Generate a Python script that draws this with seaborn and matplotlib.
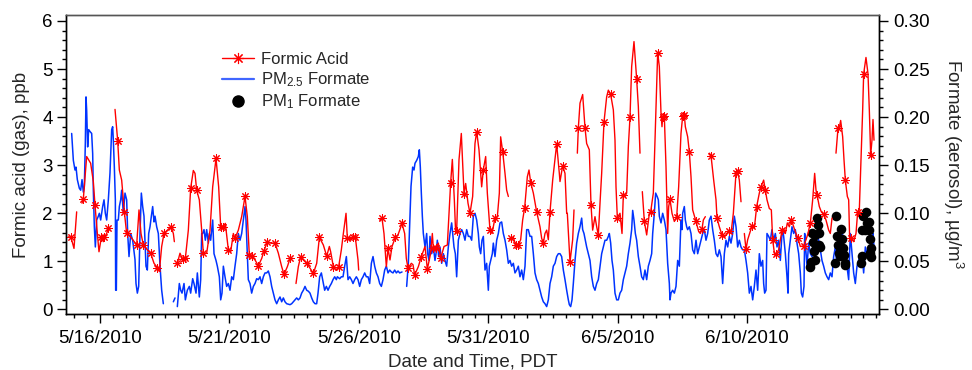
import numpy as np
import pandas as pd
import matplotlib
matplotlib.use("Agg")
import matplotlib.pyplot as plt
import matplotlib.dates as mdates
from matplotlib.lines import Line2D
from matplotlib.ticker import MultipleLocator, FixedLocator, FuncFormatter
import seaborn as sns

nan = float("nan")
START = "2010-05-14 00:00"   # elapsed days below are counted from this time (PDT)

# ---------------- Formic acid (gas), ppb ----------------
formic_day = [
    0.776, 0.879, 0.995, 1.098, nan,
    1.304, 1.356, 1.485, 1.639, 1.742, 1.807, 1.897, 1.961, 2.051, 2.129, 2.167, 2.258, 2.322, 2.386, nan,
    2.580, 2.683, 2.747, 2.837, 2.902, 2.940, 3.030, 3.185, 3.417, 3.507, 3.584, 3.674, 3.829, 3.958, 4.087,
    4.215, 4.293, 4.383, 4.473, 4.602, 4.744, 4.834, 4.873, nan,
    4.988, 5.091, 5.194, 5.297, 5.413, 5.503, 5.606, 5.671, 5.735, 5.838, 5.929, 5.993, 6.122, 6.251, 6.354,
    6.483, 6.585, 6.663, 6.740, 6.843, 6.959, 7.049, 7.152, 7.217, 7.345, 7.474, 7.603, 7.693, 7.770, 7.860,
    7.989, 8.118, 8.247, 8.337, 8.466, 8.595, 8.762, 8.891, 9.020, 9.110, 9.239, 9.341, nan,
    9.573, 9.663, 9.753, 9.856, 9.985, 10.114, 10.243, 10.373, 10.476, 10.630, 10.759, 10.862, 10.913,
    11.016, 11.119, 11.222, 11.325, 11.403, 11.506, 11.557, 11.660, 11.776, 11.866, 11.969, 11.995, nan,
    12.806, 12.896, 12.973, 13.064, 13.128, 13.205, 13.283, 13.411, 13.514, 13.579, 13.669, 13.772, 13.836,
    13.901, 14.030, 14.094, 14.158, 14.300, 14.416, 14.558, 14.648, 14.777, 14.841, 14.880, 14.970, 15.073,
    15.163, 15.292, 15.421, 15.549, 15.614, 15.691, 15.743, 15.781, 15.871, 15.961, 16.065, 16.129, 16.219,
    16.296, 16.399, 16.489, 16.554, 16.644, 16.747, 16.812, 16.902, 16.966, 17.069, 17.147, 17.262, 17.353,
    17.430, 17.481, 17.559, 17.649, 17.713, 17.778, nan,
    17.816, 17.868, 17.971, 18.061, 18.164, 18.254, 18.331, 18.409, 18.512, 18.576, 18.641, 18.744, 18.872,
    19.001, 19.066, 19.130, 19.194, 19.259, 19.323, 19.388, 19.491, 19.645, 19.748, 19.774, 19.877, 19.967,
    20.032, 20.057, 20.160, 20.263, 20.315, nan,
    20.444, 20.482, 20.547, 20.650, 20.740, 20.804, 20.907, 20.972, 21.036, 21.126, 21.191, 21.255, 21.320,
    21.384, 21.474, 21.577, 21.641, 21.732, 21.835, 21.899, 21.938, 21.989, 22.092, 22.170, 22.221, 22.286,
    22.350, 22.415, 22.479, 22.543, 22.633, 22.736, 22.801, 22.865, nan,
    22.955, 23.033, 23.123, 23.226, 23.278, 23.380, 23.445, 23.548, 23.612, 23.677, 23.715, 23.741, 23.805,
    23.870, 23.934, 23.973, 24.024, 24.102, 24.192, 24.282, 24.359, 24.449, 24.514, 24.578, 24.617, 24.707,
    24.771, 24.836, 24.900, 25.029, 25.132, 25.197, 25.261, 25.312, 25.390, nan,
    25.544, 25.609, 25.712, 25.802, 25.840, 25.930, 26.034, 26.124, 26.291, 26.381, 26.472, 26.575, 26.639,
    26.703, 26.768, nan,
    26.897, 26.961, 27.025, 27.193, 27.283, 27.373, 27.476, 27.540, 27.643, 27.708, 27.772, 27.862, 27.940,
    27.991, 28.068, 28.120, 28.223, 28.352, 28.416, 28.481, 28.558, 28.635, 28.712, 28.803, 28.893, 28.970,
    29.060, 29.189, 29.279, 29.356, 29.447, 29.537, 29.614, 29.666, 29.704, 29.794, 29.872, 29.962, 30.052,
    30.155, 30.219, 30.284, nan,
    30.438, 30.516, 30.580, 30.619, 30.696, 30.748, 30.799, 30.877, 30.928, 30.967, 31.031, 31.121, 31.211,
    31.276, 31.340, 31.404, 31.469, 31.507, 31.597, 31.675, 31.726, 31.778, 31.829, 31.868, 31.907,
]
formic_ppb = [
    1.51, 1.50, 1.27, 2.03, nan,
    2.21, 2.30, 3.18, 3.04, 2.66, 2.17, 1.58, 1.20, 1.50, 1.41, 1.50, 1.58, 1.69, 1.65, nan,
    4.16, 3.51, 2.90, 2.69, 2.28, 2.03, 1.58, 1.51, 1.34, 2.07, 1.58, 1.34, 1.24, 1.17, 0.96,
    0.87, 0.79, 1.31, 1.58, 1.65, 1.72, 1.58, 1.41, nan,
    0.96, 1.17, 1.04, 1.06, 1.65, 2.52, 2.89, 2.83, 2.48, 2.28, 1.65, 1.17, 1.17, 1.65, 2.55,
    3.14, 2.55, 1.72, 1.72, 1.79, 1.24, 1.20, 1.58, 1.48, 1.65, 1.93, 2.35, 1.93, 1.13, 1.11,
    1.03, 0.91, 1.06, 1.22, 1.41, 1.38, 1.38, 1.17, 0.89, 0.73, 0.89, 1.06, nan,
    0.54, 0.89, 1.10, 1.03, 0.96, 0.86, 0.75, 0.96, 1.50, 1.34, 1.11, 1.31, 1.20,
    0.89, 0.82, 0.89, 1.24, 1.58, 2.00, 1.48, 1.45, 1.51, 1.50, 1.03, 0.82, nan,
    1.86, 1.90, 1.58, 0.89, 1.27, 1.03, 1.31, 1.50, 1.55, 1.65, 1.79, 1.58, 1.06,
    0.86, 0.96, 0.93, 0.72, 0.89, 1.10, 1.31, 0.84, 1.17, 1.58, 1.27, 1.27, 1.38,
    1.06, 1.31, 1.34, 2.64, 3.12, 2.28, 1.58, 1.64, 3.11, 3.66, 2.41, 2.62, 2.21,
    2.00, 2.35, 3.45, 3.70, 3.32, 2.55, 2.91, 3.18, 2.42, 1.65, 1.58, 1.90, 1.93,
    2.42, 3.59, 3.28, 2.83, 2.48, 2.35, nan,
    1.45, 1.48, 1.50, 1.34, 1.35, 1.45, 1.86, 2.12, 2.76, 2.90, 2.64, 2.42, 2.03,
    1.72, 1.48, 1.38, 1.58, 1.65, 1.45, 2.03, 2.69, 3.44, 2.83, 2.66, 2.99, 2.83,
    2.00, 2.00, 0.99, 1.45, 2.07, nan,
    3.25, 3.77, 4.29, 4.47, 3.78, 3.45, 3.32, 2.17, 1.65, 1.93, 1.72, 1.55, 2.21,
    2.83, 3.90, 4.42, 4.56, 4.47, 4.15, 3.52, 2.55, 1.91, 2.00, 1.58, 2.38, 2.35,
    2.42, 3.39, 4.00, 5.05, 5.57, 4.79, 4.22, 3.25, nan,
    2.45, 1.83, 1.55, 2.00, 2.03, 2.42, 3.52, 5.34, 5.05, 4.08, 3.80, 4.01, 4.02,
    2.97, 1.58, 2.14, 2.29, 2.00, 1.83, 1.92, 2.55, 3.66, 4.02, 4.04, 3.80, 3.59,
    3.28, 2.76, 2.07, 1.83, 1.62, 1.58, 1.67, 1.86, 1.93, nan,
    3.25, 3.20, 2.69, 2.28, 1.90, 1.72, 1.55, 1.50, 1.64, 1.58, 2.00, 2.84, 2.87,
    2.69, 2.24, nan,
    1.58, 1.25, 1.45, 1.74, 1.69, 2.14, 2.42, 2.55, 2.69, 2.48, 2.28, 2.10, 2.07,
    1.45, 1.13, 1.15, 1.24, 1.65, 1.67, 1.58, 1.80, 1.72, 1.87, 1.72, 1.58, 1.48,
    1.31, 1.32, 1.45, 1.58, 1.80, 2.28, 2.83, 2.48, 2.39, 2.14, 2.03, 1.98, 1.86,
    1.65, 1.58, 1.90, nan,
    3.25, 3.77, 3.82, 3.93, 3.59, 3.11, 2.69, 2.35, 2.28, 1.45, 1.48, 1.41, 1.58,
    2.03, 2.07, 3.11, 4.15, 4.90, 5.24, 4.90, 4.15, 3.21, 3.52, 3.95, 3.52,
]
# 1 = sample flagged with a star marker
formic_star = [
    0, 1, 0, 0, 0,
    0, 1, 0, 0, 0, 1, 0, 0, 1, 0, 1, 0, 1, 0, 0,
    0, 1, 0, 0, 0, 1, 1, 0, 1, 0, 0, 1, 0, 1, 0,
    1, 0, 0, 1, 0, 1, 0, 0, 0,
    1, 0, 1, 1, 0, 1, 0, 0, 1, 0, 0, 1, 0, 0, 0,
    1, 0, 1, 1, 0, 1, 0, 0, 1, 0, 0, 1, 0, 1, 1,
    0, 1, 0, 1, 1, 0, 1, 0, 0, 1, 0, 1, 0,
    0, 0, 1, 0, 1, 0, 1, 0, 1, 0, 1, 0, 0,
    1, 0, 1, 0, 0, 0, 1, 0, 1, 1, 0, 0, 0,
    0, 1, 0, 0, 1, 0, 0, 1, 0, 0, 1, 0, 0,
    1, 0, 0, 1, 0, 1, 0, 1, 0, 0, 1, 1, 0,
    1, 0, 0, 1, 0, 0, 0, 1, 0, 0, 1, 0, 0,
    1, 0, 0, 1, 0, 0, 1, 0, 0, 1, 0, 1, 0,
    0, 0, 1, 0, 0, 0, 0,
    0, 1, 0, 1, 1, 0, 0, 1, 0, 0, 1, 0, 1,
    0, 0, 1, 0, 0, 0, 1, 0, 1, 0, 0, 1, 0,
    0, 0, 1, 0, 0, 0,
    0, 1, 0, 0, 1, 0, 0, 1, 0, 0, 0, 1, 0,
    0, 1, 0, 0, 1, 0, 0, 0, 1, 0, 0, 1, 0,
    0, 0, 1, 0, 0, 1, 0, 0, 0,
    0, 1, 0, 0, 1, 0, 0, 1, 0, 0, 0, 1, 1,
    0, 0, 0, 1, 0, 0, 1, 0, 0, 1, 1, 0, 0,
    1, 0, 0, 1, 0, 0, 1, 0, 0, 0,
    0, 1, 0, 0, 1, 0, 1, 0, 1, 0, 0, 1, 1,
    0, 0, 0,
    0, 1, 0, 1, 0, 1, 0, 1, 0, 1, 0, 0, 0,
    1, 0, 1, 0, 1, 0, 0, 0, 0, 1, 0, 0, 1,
    0, 1, 0, 0, 1, 0, 0, 0, 1, 0, 0, 1, 0,
    0, 0, 0, 0,
    0, 1, 0, 0, 0, 0, 1, 0, 0, 0, 1, 0, 0,
    1, 0, 0, 0, 1, 0, 0, 0, 1, 0, 0, 0,
]

# ---------------- PM2.5 formate, ug/m3 ----------------
pm25_day = [
    0.905, 0.970, 1.034, 1.073, 1.124, 1.202, 1.253, 1.305, 1.356, 1.395, 1.433, 1.459, 1.485, 1.523, 1.562,
    1.614, 1.678, 1.717, 1.742, 1.781, 1.820, 1.871, 1.936, 1.974, 2.026, 2.064, 2.103, 2.155, 2.206, 2.258,
    2.322, 2.386, 2.451, 2.489, 2.515, 2.554, 2.593, 2.605, 2.631, 2.657, 2.708, 2.747, 2.799, 2.837, 2.902,
    2.966, 3.030, 3.069, 3.121, 3.185, 3.262, 3.352, 3.391, 3.443, 3.494, 3.546, 3.597, 3.649, 3.700, 3.777,
    3.829, 3.881, 3.932, 3.984, 4.035, 4.087, 4.125, 4.190, 4.254, 4.319, 4.383, 4.447, nan,
    4.834, 4.898, nan,
    4.988, 5.065, 5.117, 5.169, 5.246, 5.298, 5.374, 5.452, 5.503, 5.581, 5.632, 5.710, 5.761, 5.838, 5.890,
    5.929, 5.967, 6.019, 6.070, 6.122, 6.186, 6.225, 6.276, 6.354, 6.405, 6.482, 6.534, 6.611, 6.663, 6.714,
    6.766, 6.830, 6.894, 6.959, 7.023, 7.088, 7.152, 7.216, 7.281, 7.345, 7.410, 7.474, 7.538, 7.603, 7.641,
    7.693, 7.731, 7.796, 7.860, 7.925, 7.989, 8.054, 8.118, 8.182, 8.247, 8.311, 8.376, 8.440, 8.504, 8.569,
    8.633, 8.698, 8.762, 8.827, 8.891, 8.955, 9.020, 9.084, 9.148, 9.213, 9.342, 9.406, 9.470, 9.535, 9.599,
    9.664, 9.728, 9.792, 9.857, 9.921, 9.986, 10.050, 10.114, 10.179, 10.243, 10.308, 10.372,
    10.424, 10.488, 10.553, 10.617, 10.681, 10.746, 10.810, 10.875, 10.939, 11.003, 11.068, 11.132, 11.171,
    11.261, 11.325, 11.390, 11.454, 11.519, 11.583, 11.647, 11.712, 11.776, 11.840, 11.905, 11.969, 12.034,
    12.098, 12.163, 12.227, 12.291, 12.356, 12.420, 12.485, 12.549, 12.613, 12.678, 12.742, 12.807, 12.871,
    12.935, 13.000, 13.064, 13.129, 13.193, 13.257, 13.322, 13.386, 13.451, 13.515, 13.579, 13.670, nan,
    13.849, 13.914, 13.978, 14.017, 14.081, 14.133, 14.171, 14.236, 14.300, 14.339, 14.377, 14.416, 14.455,
    14.493, 14.558, 14.622, 14.661, 14.712, 14.751, 14.815, 14.880, 14.944, 14.983, 15.034, 15.086, 15.137,
    15.202, 15.266, 15.330, 15.395, 15.459, 15.524, 15.588, 15.627, 15.678, 15.730, 15.781, 15.846, 15.910,
    15.974, 16.039, 16.103, 16.168, 16.232, 16.296, 16.361, 16.425, 16.490, 16.554, 16.618, 16.657, 16.709,
    16.760, 16.812, 16.876, 16.940, 17.005, 17.043, 17.095, 17.159, 17.198, 17.262, 17.327, 17.391, 17.456,
    17.520, 17.584, 17.649, 17.713, 17.778, 17.842, 17.906, 17.971, 18.035, 18.100, 18.164, 18.228, 18.293,
    18.357, 18.422, 18.486, 18.550, 18.615, 18.679, 18.744, 18.808, 18.872, 18.937, 19.001, 19.066, 19.130,
    19.194, 19.259, 19.323, 19.388, 19.452, 19.516, 19.581, 19.645, 19.710, 19.774, 19.838, 19.903, 19.967,
    20.032, 20.096, 20.135, 20.186, 20.238, 20.289, 20.354, 20.418, 20.482, 20.547, 20.611, 20.650, 20.701,
    20.753, 20.804, 20.869, 20.933, 20.998, 21.062, 21.126, 21.191, 21.255, 21.320, 21.384, 21.448, 21.513,
    21.577, 21.642, 21.680, 21.732, 21.783, 21.835, 21.899, 21.964, 22.028, 22.092, 22.157, 22.221, 22.286,
    22.350, 22.414, 22.479, 22.543, 22.582, 22.633, 22.685, 22.736, 22.801, 22.865, 22.929, 22.994, 23.058,
    23.123, 23.187, 23.252, 23.316, 23.355, 23.419, 23.470, 23.535, 23.574, 23.612, 23.677, 23.741, 23.805,
    23.870, 23.934, 23.999, 24.024, 24.063, 24.127, 24.192, 24.256, 24.321, 24.385, 24.449, 24.488, 24.514,
    24.578, 24.617, 24.668, 24.707, 24.771, 24.836, 24.900, 24.965, 25.029, 25.093, 25.158, 25.222, 25.287,
    25.351, 25.415, 25.480, 25.544, 25.609, 25.673, 25.737, 25.802, 25.866, 25.931, 25.995, 26.059, 26.124,
    26.188, 26.253, 26.317, 26.381, 26.446, 26.510, 26.575, 26.639, 26.703, 26.768, 26.832, 26.897, 26.961,
    27.025, 27.090, 27.154, 27.219, 27.283, 27.347, 27.412, 27.476, 27.540, 27.605, 27.643, 27.682, 27.734,
    27.772, 27.837, 27.901, 27.965, 28.030, 28.094, 28.159, 28.223, 28.287, 28.352, 28.378, 28.416, 28.481,
    28.545, 28.584, 28.609, 28.674, 28.738, 28.803, 28.867, 28.931, 28.996, 29.060, 29.099, 29.150, 29.202,
    29.228, 29.253, 29.318, 29.382, 29.447, 29.511, 29.575, 29.640, 29.704, 29.769, 29.833, 29.897, 29.962,
    30.026, 30.091, 30.155, 30.219, 30.284, 30.348, 30.413, 30.477, 30.541, 30.606, 30.670, 30.735, 30.799,
    30.863, 30.928, 30.992, 31.057, 31.121, 31.185, 31.250, 31.314, 31.379, 31.443, 31.507, 31.572, 31.636,
    31.701, 31.765, 31.829, 31.868, 31.907,
]
pm25_ugm3 = [
    0.183, 0.155, 0.145, 0.148, 0.135, 0.126, 0.124, 0.135, 0.122, 0.128, 0.173, 0.221, 0.207, 0.169, 0.187,
    0.185, 0.183, 0.162, 0.124, 0.086, 0.065, 0.093, 0.097, 0.100, 0.093, 0.100, 0.107, 0.114, 0.100, 0.093,
    0.114, 0.142, 0.187, 0.190, 0.176, 0.148, 0.114, 0.020, 0.020, 0.093, 0.093, 0.107, 0.114, 0.124, 0.100,
    0.121, 0.114, 0.079, 0.055, 0.079, 0.072, 0.052, 0.027, 0.017, 0.024, 0.079, 0.121, 0.107, 0.097, 0.045,
    0.041, 0.079, 0.086, 0.097, 0.107, 0.091, 0.097, 0.086, 0.079, 0.045, 0.020, 0.006, nan,
    0.008, 0.012, nan,
    0.003, 0.027, 0.020, 0.017, 0.027, 0.010, 0.020, 0.024, 0.017, 0.032, 0.027, 0.017, 0.038, 0.013, 0.031,
    0.079, 0.079, 0.083, 0.072, 0.083, 0.069, 0.079, 0.072, 0.093, 0.058, 0.051, 0.045, 0.034, 0.010, 0.017,
    0.045, 0.034, 0.024, 0.027, 0.020, 0.034, 0.031, 0.045, 0.058, 0.079, 0.072, 0.079, 0.093, 0.107, 0.093,
    0.058, 0.031, 0.027, 0.017, 0.024, 0.027, 0.032, 0.031, 0.034, 0.027, 0.034, 0.038, 0.038, 0.040, 0.034,
    0.024, 0.017, 0.010, 0.006, 0.010, 0.013, 0.008, 0.012, 0.008, 0.006, 0.005, 0.006, 0.008, 0.010, 0.012,
    0.010, 0.012, 0.017, 0.020, 0.024, 0.020, 0.019, 0.017, 0.012, 0.008, 0.006, 0.006,
    0.017, 0.034, 0.038, 0.029, 0.020, 0.024, 0.020, 0.024, 0.027, 0.031, 0.034, 0.031, 0.034,
    0.032, 0.034, 0.034, 0.045, 0.055, 0.031, 0.034, 0.031, 0.027, 0.031, 0.034, 0.031, 0.024,
    0.031, 0.034, 0.038, 0.034, 0.034, 0.027, 0.048, 0.055, 0.045, 0.038, 0.034, 0.027, 0.024,
    0.031, 0.041, 0.045, 0.038, 0.041, 0.039, 0.038, 0.041, 0.038, 0.040, 0.038, 0.039, nan,
    0.024, 0.048, 0.097, 0.128, 0.148, 0.145, 0.152, 0.155, 0.159, 0.166, 0.148, 0.121, 0.097,
    0.079, 0.065, 0.079, 0.058, 0.051, 0.076, 0.058, 0.065, 0.051, 0.058, 0.072, 0.055, 0.065,
    0.048, 0.058, 0.051, 0.045, 0.065, 0.079, 0.090, 0.079, 0.065, 0.058, 0.034, 0.072, 0.079,
    0.083, 0.079, 0.072, 0.083, 0.076, 0.076, 0.072, 0.097, 0.100, 0.093, 0.079, 0.065, 0.058,
    0.072, 0.076, 0.041, 0.048, 0.020, 0.045, 0.051, 0.058, 0.069, 0.055, 0.072, 0.079, 0.090,
    0.091, 0.079, 0.072, 0.062, 0.048, 0.051, 0.045, 0.048, 0.038, 0.041, 0.045, 0.034, 0.041,
    0.031, 0.045, 0.083, 0.083, 0.076, 0.076, 0.058, 0.038, 0.031, 0.027, 0.020, 0.013, 0.008,
    0.006, 0.003, 0.010, 0.027, 0.034, 0.045, 0.048, 0.055, 0.058, 0.058, 0.055, 0.041, 0.031,
    0.020, 0.010, 0.005, 0.003, 0.010, 0.027, 0.051, 0.069, 0.079, 0.086, 0.095, 0.083, 0.079,
    0.072, 0.065, 0.058, 0.051, 0.034, 0.024, 0.020, 0.027, 0.031, 0.045, 0.058, 0.065, 0.072,
    0.072, 0.076, 0.079, 0.069, 0.051, 0.041, 0.017, 0.010, 0.010, 0.017, 0.020, 0.031, 0.038,
    0.045, 0.058, 0.069, 0.083, 0.103, 0.093, 0.079, 0.072, 0.055, 0.045, 0.034, 0.031, 0.041,
    0.031, 0.045, 0.051, 0.058, 0.079, 0.100, 0.121, 0.117, 0.114, 0.097, 0.090, 0.100, 0.093,
    0.083, 0.048, 0.027, 0.010, 0.017, 0.020, 0.017, 0.024, 0.051, 0.045, 0.093, 0.083, 0.100,
    0.107, 0.093, 0.086, 0.083, 0.086, 0.079, 0.062, 0.058, 0.072, 0.058, 0.065, 0.072, 0.079,
    0.083, 0.072, 0.079, 0.093, 0.097, 0.083, 0.072, 0.058, 0.055, 0.062, 0.055, 0.027, 0.058,
    0.072, 0.065, 0.076, 0.069, 0.079, 0.097, 0.086, 0.065, 0.072, 0.065, 0.062, 0.062, 0.051,
    0.038, 0.017, 0.024, 0.010, 0.024, 0.041, 0.020, 0.058, 0.045, 0.051, 0.027, 0.017, 0.020,
    0.079, 0.076, 0.072, 0.083, 0.072, 0.079, 0.065, 0.072, 0.051, 0.079, 0.083, 0.076, 0.058,
    0.034, 0.017, 0.058, 0.072, 0.086, 0.079, 0.083, 0.069, 0.058, 0.038, 0.017, 0.013, 0.024,
    0.079, 0.069, 0.045, 0.069, 0.058, 0.055, 0.065, 0.062, 0.079, 0.072, 0.062, 0.051, 0.045,
    0.038, 0.034, 0.031, 0.038, 0.034, 0.055, 0.065, 0.045, 0.079, 0.076, 0.083, 0.065, 0.058,
    0.045, 0.031, 0.079, 0.058, 0.038, 0.027, 0.045, 0.051, 0.058, 0.058, 0.038, 0.065, 0.058,
    0.055, 0.058, 0.051, 0.079, 0.065,
]

# ---------------- PM1 formate, ug/m3 ----------------
pm1_day = [
    29.421, 29.472, 29.511, 29.550, 29.601, 29.640, 29.679, 29.717, 29.743, 29.769, 29.794, 29.627, 29.820,
    30.387, 30.438, 30.477, 30.516, 30.541, 30.580, 30.632, 30.670, 30.709, 30.748, 30.773, 30.799, 30.606,
    31.417, 31.443, 31.456, 31.482, 31.572, 31.611, 31.649, 31.701, 31.726, 31.752, 31.778, 31.804, 31.739,
]
pm1_ugm3 = [
    0.0445, 0.0497, 0.0792, 0.0706, 0.0612, 0.0515, 0.0661, 0.0948, 0.0879, 0.0792, 0.0671, 0.0775, 0.0653,
    0.0480, 0.0972, 0.0764, 0.0671, 0.0584, 0.0557, 0.0834, 0.0730, 0.0636, 0.0567, 0.0480, 0.0463, 0.0653,
    0.0480, 0.0557, 0.0826, 0.0972, 0.0826, 0.1017, 0.0903, 0.0826, 0.0913, 0.0730, 0.0636, 0.0543, 0.0584,
]

legend_labels = ["Formic Acid", "PM$_{2.5}$ Formate", "PM$_1$ Formate"]
major_dates = ["2010-05-16", "2010-05-21", "2010-05-26", "2010-05-31", "2010-06-05", "2010-06-10"]
x_range = ["2010-05-14 16:28", "2010-06-15 02:24"]


def make_frame(days, vals, flags=None):
    df = pd.DataFrame({"day": days, "val": vals})
    if flags is not None:
        df["star"] = flags
    df["segment"] = df["val"].isna().cumsum()
    df = df.dropna(subset=["day", "val"]).copy()
    df["time"] = pd.Timestamp(START) + pd.to_timedelta(df["day"], unit="D")
    return df


red = make_frame(formic_day, formic_ppb, formic_star)
blue = make_frame(pm25_day, pm25_ugm3)
black = make_frame(pm1_day, pm1_ugm3)

sns.set_style("ticks")
plt.rcParams["font.family"] = ["Liberation Sans", "DejaVu Sans"]
plt.rcParams["mathtext.default"] = "regular"

RED = "#ff0000"
BLUE = "#0033ff"
FS = 13.5

fig = plt.figure(figsize=(9.72, 3.70), dpi=100)
ax = fig.add_axes([66 / 972, 56 / 370, 813 / 972, 299 / 370])
ax2 = ax.twinx()

# aerosol (right axis)
sns.lineplot(data=blue, x="time", y="val", units="segment", estimator=None, sort=False,
             color=BLUE, lw=1.1, ax=ax2, legend=False)
sns.scatterplot(data=black, x="time", y="val", color="black", s=48, linewidth=0,
                marker="o", ax=ax2, legend=False, zorder=5)

# gas (left axis)
sns.lineplot(data=red, x="time", y="val", units="segment", estimator=None, sort=False,
             color=RED, lw=1.0, ax=ax, legend=False)
sns.scatterplot(data=red[red["star"] == 1], x="time", y="val", marker=(8, 2, 0), s=30,
                color=RED, linewidth=0.75, ax=ax, legend=False)

ax.set_zorder(ax2.get_zorder() + 1)
ax.patch.set_visible(False)

ax.set_ylim(-0.094, 6.123)
ax2.set_ylim(-0.094 / 20, 6.123 / 20)
ax.set_xlim(pd.Timestamp(x_range[0]), pd.Timestamp(x_range[1]))

ax.yaxis.set_major_locator(MultipleLocator(1))
ax.yaxis.set_minor_locator(MultipleLocator(0.2))
ax2.yaxis.set_major_locator(MultipleLocator(0.05))
ax2.yaxis.set_minor_locator(MultipleLocator(0.01))
ax2.yaxis.set_major_formatter(FuncFormatter(lambda v, p: f"{v:.2f}"))
ax.yaxis.set_major_formatter(FuncFormatter(lambda v, p: f"{v:.0f}"))

ax.xaxis.set_major_locator(FixedLocator(mdates.date2num(pd.to_datetime(major_dates))))
ax.xaxis.set_minor_locator(mdates.HourLocator(byhour=[0, 12]))


def date_fmt(v, p):
    d = mdates.num2date(v)
    return f"{d.month}/{d.day}/{d.year}"


ax.xaxis.set_major_formatter(FuncFormatter(date_fmt))

for a in (ax, ax2):
    a.tick_params(which="major", direction="out", length=6.5, width=1.0, labelsize=FS,
                  color="black", labelcolor="black")
    a.tick_params(which="minor", direction="out", length=3.2, width=1.0, color="black")
    for s in a.spines.values():
        s.set_visible(True)
        s.set_linewidth(1.0)
        s.set_color("black")
ax.spines["top"].set_color("#555555")
ax2.spines["top"].set_color("#555555")
ax.tick_params(axis="y", which="both", left=True, right=False, pad=3)
ax2.tick_params(axis="y", which="both", left=False, right=True, pad=3.5)
ax.tick_params(axis="x", which="both", top=False, bottom=True, pad=5)
ax2.tick_params(axis="x", which="both", top=False, bottom=False)

ax.set_xlabel("Date and Time, PDT", fontsize=FS, labelpad=5)
ax.set_ylabel("Formic acid (gas), ppb", fontsize=FS, labelpad=9)
ax2.set_ylabel("Formate (aerosol), µg/m$^3$", fontsize=FS, rotation=-90, va="bottom", labelpad=8)

handles = [
    Line2D([], [], color=RED, lw=1.0, marker=(8, 2, 0), markersize=8, markeredgewidth=0.8),
    Line2D([], [], color=BLUE, lw=1.6, alpha=0.75),
    Line2D([], [], color="black", lw=0, marker="o", markersize=8),
]
ax.legend(handles, legend_labels, loc="upper left", bbox_to_anchor=(0.192, 0.876),
          frameon=False, fontsize=12, handlelength=1.9, handletextpad=0.45,
          labelspacing=0.2, borderpad=0, borderaxespad=0)

fig.savefig("out.png", dpi=100)
